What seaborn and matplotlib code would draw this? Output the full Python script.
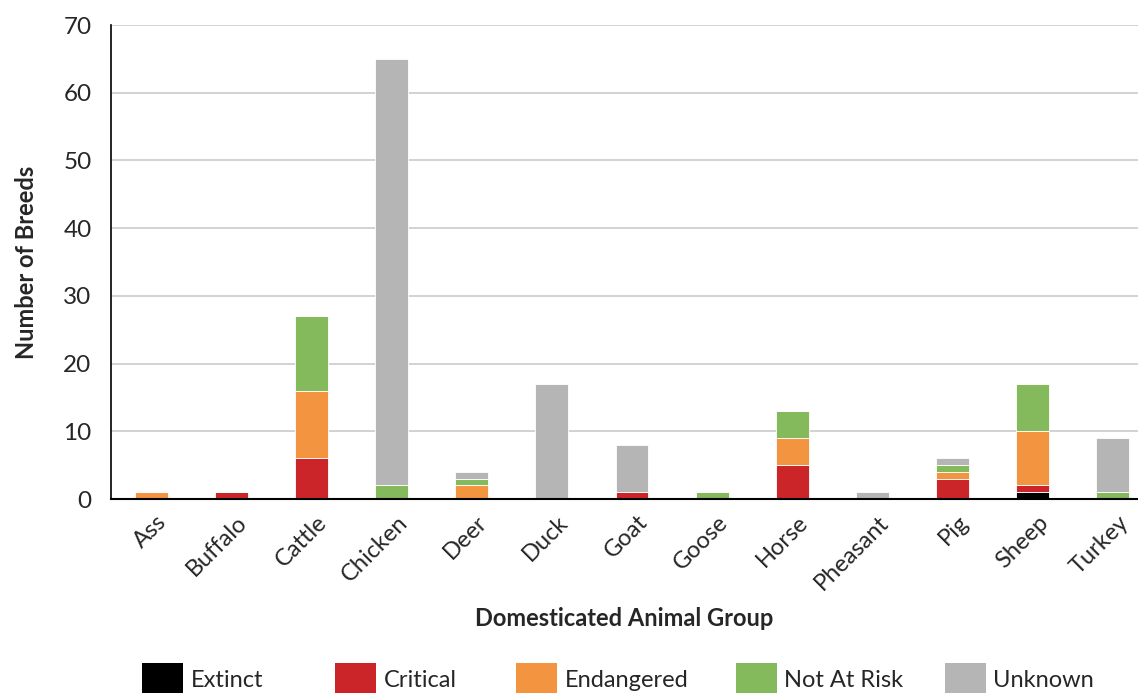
import numpy as np
import pandas as pd
import seaborn as sns
import matplotlib.pyplot as plt
import matplotlib.transforms as mtransforms
from matplotlib.patches import Patch

#====================== Breed counts by risk status ======================
groups = ['Ass', 'Buffalo', 'Cattle', 'Chicken', 'Deer', 'Duck', 'Goat',
          'Goose', 'Horse', 'Pheasant', 'Pig', 'Sheep', 'Turkey']
statuses = ['Extinct', 'Critical', 'Endangered', 'Not At Risk', 'Unknown']

extinct = [0, 0, 0, 0, 0, 0, 0, 0, 0, 0, 0, 1, 0]
critical = [0, 1, 6, 0, 0, 0, 1, 0, 5, 0, 3, 1, 0]
endangered = [1, 0, 10, 0, 2, 0, 0, 0, 4, 0, 1, 8, 0]
not_at_risk = [0, 0, 11, 2, 1, 0, 0, 1, 4, 0, 1, 7, 1]
unknown = [0, 0, 0, 63, 1, 17, 7, 0, 0, 1, 1, 0, 8]

colors = ['#000000', '#CC2529', '#F29440', '#84BA5B', '#B4B5B4']

# left edge (px) of each legend entry, as in the original layout
legend_x = [142, 335, 516, 736, 945]

counts = pd.DataFrame({'Group': groups, 'Extinct': extinct, 'Critical': critical,
                       'Endangered': endangered, 'Not At Risk': not_at_risk,
                       'Unknown': unknown})


def stacked_plot(counts):
	"""
	Plots stacked breed counts per domesticated animal group and saves out.png.
	"""
	sns.set_theme(style="white")
	plt.rcParams['font.family'] = ['Lato', 'DejaVu Sans']

	fig = plt.figure(figsize=(11.38, 6.93), dpi=100)
	ax = fig.add_axes([111/1138, 194/693, 1042/1138, 474/693])

	bottom = np.zeros(len(counts))
	for status, color in zip(statuses, colors):
		sns.barplot(x='Group', y=status, data=counts, ax=ax, color=color,
		            width=0.41, bottom=bottom, edgecolor='white', linewidth=0.6,
		            saturation=1)
		bottom += counts[status].values

	ax.set_ylim(0, 70)
	ax.set_yticks(range(0, 71, 10))
	ax.yaxis.grid(True, color='#cfcfcf', linewidth=1.3)
	ax.set_axisbelow(True)
	for side in ['top', 'right']:
		ax.spines[side].set_visible(False)
	ax.spines['left'].set_color('black')
	ax.spines['bottom'].set_color('black')
	ax.spines['left'].set_linewidth(1.2)
	ax.spines['bottom'].set_linewidth(1.5)

	ax.tick_params(axis='y', labelsize=17.5, length=0, pad=14)
	ax.tick_params(axis='x', labelsize=17, length=0, pad=9)
	shift = mtransforms.ScaledTranslation(5/100, 0, fig.dpi_scale_trans)
	for lab in ax.get_xticklabels():
		lab.set_rotation(45)
		lab.set_ha('right')
		lab.set_rotation_mode('anchor')
		lab.set_transform(lab.get_transform() + shift)

	ax.set_ylabel('Number of Breeds', fontsize=17, fontweight='bold', labelpad=18)
	ax.set_xlabel('Domesticated Animal Group', fontsize=17, fontweight='bold')
	ax.xaxis.set_label_coords((624 - 111) / 1042, -0.228)

	# one legend per entry so the uneven spacing of the original is kept
	for status, color, x in zip(statuses, colors, legend_x):
		fig.legend([Patch(facecolor=color, edgecolor='none')], [status],
		           loc='lower left', frameon=False, fontsize=17,
		           handlelength=1.75, handleheight=1.75, handletextpad=0.3,
		           borderpad=0, borderaxespad=0,
		           bbox_to_anchor=(x / 1138, -0.004))

	plt.savefig('out.png', dpi=100)


stacked_plot(counts)
